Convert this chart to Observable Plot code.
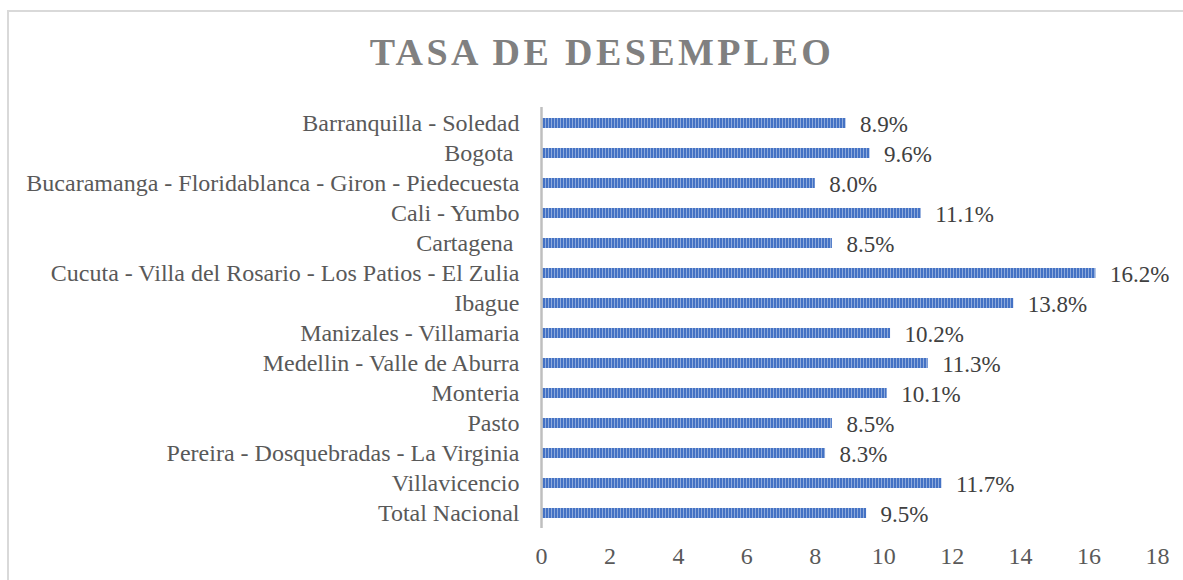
<!DOCTYPE html>
<html>
<head>
<meta charset="utf-8">
<script src="https://cdn.jsdelivr.net/npm/d3@7"></script>
<script src="https://cdn.jsdelivr.net/npm/@observablehq/plot@0.6"></script>
<style>
  html, body { margin: 0; padding: 0; background: #fff; }
  body { width: 1183px; height: 580px; position: relative; overflow: hidden; font-family: "Liberation Serif", "Times New Roman", serif; }
  #frame { position: absolute; left: 7px; top: 10px; width: 1200px; height: 600px; border: 2px solid #d9d9d9; box-sizing: border-box; }
  #title { position: absolute; left: 0; width: 1204px; top: 30px; text-align: center; font-weight: bold; font-size: 38px; letter-spacing: 3.4px; color: #808080; line-height: 44px; }
  #chart { position: absolute; left: 0; top: 90px; }
  #chart svg, #chart svg text { font-family: "Liberation Serif", "Times New Roman", serif !important; white-space: pre; }
</style>
</head>
<body>
<div id="frame"></div>
<div id="title">TASA DE DESEMPLEO</div>
<div id="chart"></div>
<script>
const cities = [
  "Barranquilla - Soledad",
  "Bogota ",
  "Bucaramanga - Floridablanca - Giron - Piedecuesta",
  "Cali - Yumbo",
  "Cartagena ",
  "Cucuta - Villa del Rosario - Los Patios - El Zulia",
  "Ibague",
  "Manizales - Villamaria",
  "Medellin - Valle de Aburra",
  "Monteria",
  "Pasto",
  "Pereira - Dosquebradas - La Virginia",
  "Villavicencio",
  "Total Nacional"
];
const rates = [8.9, 9.6, 8.0, 11.1, 8.5, 16.2, 13.8, 10.2, 11.3, 10.1, 8.5, 8.3, 11.7, 9.5];
const xTicks = [0, 2, 4, 6, 8, 10, 12, 14, 16, 18];

const data = cities.map((c, i) => ({city: c, rate: rates[i]}));

const plot = Plot.plot({
  width: 1183,
  height: 490,
  marginLeft: 541,
  marginRight: 26,
  marginTop: 17,
  marginBottom: 52,
  style: {fontSize: "24px", color: "#595959", background: "transparent"},
  x: {domain: [0, 18], ticks: xTicks, tickSize: 0, tickPadding: 18, label: null},
  y: {domain: cities, paddingInner: 0.67, paddingOuter: 0.33, tickSize: 0, tickPadding: 22, label: null},
  marks: [
    Plot.barX(data, {x: "rate", y: "city", fill: "url(#stripes)"}),
    Plot.ruleX([0], {stroke: "#bfbfbf", strokeWidth: 2.5}),
    Plot.text(data, {x: "rate", y: "city", text: d => d.rate.toFixed(1) + "%", textAnchor: "start", dx: 14, dy: 1.5, fill: "#404040", fontSize: 23})
  ]
});

const ns = "http://www.w3.org/2000/svg";
const defs = document.createElementNS(ns, "defs");
const pat = document.createElementNS(ns, "pattern");
pat.setAttribute("id", "stripes");
pat.setAttribute("patternUnits", "userSpaceOnUse");
pat.setAttribute("width", "3");
pat.setAttribute("height", "10");
const r1 = document.createElementNS(ns, "rect");
r1.setAttribute("width", "3"); r1.setAttribute("height", "10"); r1.setAttribute("fill", "#8eaadb");
const r2 = document.createElementNS(ns, "rect");
r2.setAttribute("width", "2"); r2.setAttribute("height", "10"); r2.setAttribute("fill", "#4472c4");
pat.appendChild(r1); pat.appendChild(r2);
defs.appendChild(pat);
plot.insertBefore(defs, plot.firstChild);

document.getElementById("chart").appendChild(plot);
</script>
</body>
</html>
